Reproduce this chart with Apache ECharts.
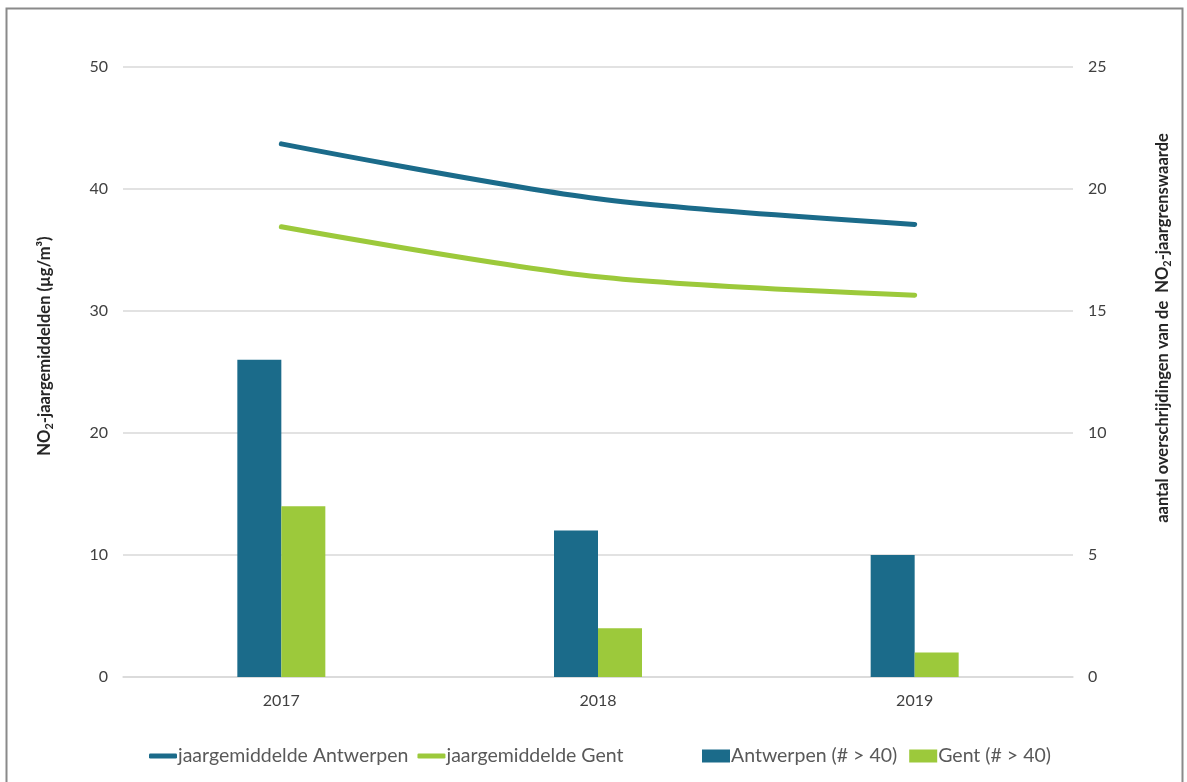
<!DOCTYPE html>
<html>
<head>
<meta charset="utf-8">
<script src="https://cdn.jsdelivr.net/npm/echarts@6/dist/echarts.min.js"></script>
<style>
  html, body { margin: 0; padding: 0; background: #ffffff; }
  #chart { width: 1187px; height: 782px; }
</style>
</head>
<body>
<div id="chart"></div>
<script>
// NO2 annual means (µg/m³) and number of exceedances of the annual limit value
const years = ['2017', '2018', '2019'];
const meanAntwerpen = [43.7, 39.2, 37.1];
const meanGent = [36.9, 32.8, 31.3];
const exceedAntwerpen = [13, 6, 5];
const exceedGent = [7, 2, 1];

const colAntwerpen = '#1b6b8a';
const colGent = '#9cc93b';
const fontFam = 'Lato, "Open Sans", sans-serif';

const chart = echarts.init(document.getElementById('chart'));

chart.setOption({
  backgroundColor: '#ffffff',
  animation: false,
  textStyle: { fontFamily: fontFam },
  grid: { left: 123, right: 114, top: 67, bottom: 105 },
  legend: [
    {
      left: 144, top: 741,
      itemWidth: 28, itemHeight: 5, itemGap: 9,
      icon: 'roundRect',
      data: ['jaargemiddelde Antwerpen', 'jaargemiddelde Gent'],
      textStyle: { fontSize: 19.5, color: '#595959', fontFamily: fontFam, padding: [0, 0, 0, -4] }
    },
    {
      left: 697, top: 741,
      itemWidth: 28, itemHeight: 13, itemGap: 12,
      icon: 'rect',
      data: ['Antwerpen (# > 40)', 'Gent (# > 40)'],
      textStyle: { fontSize: 19.5, color: '#595959', fontFamily: fontFam, padding: [0, 0, 0, -4] }
    }
  ],
  xAxis: {
    type: 'category',
    data: years,
    axisTick: { show: false },
    axisLine: { lineStyle: { color: '#d9d9d9', width: 1.5 } },
    axisLabel: { color: '#404040', fontSize: 16, margin: 16, fontFamily: fontFam }
  },
  yAxis: [
    {
      type: 'value', min: 0, max: 50, interval: 10,
      axisLine: { show: false }, axisTick: { show: false },
      splitLine: { lineStyle: { color: '#d9d9d9', width: 1.5 } },
      axisLabel: { color: '#404040', fontSize: 16, margin: 15, fontFamily: fontFam }
    },
    {
      type: 'value', min: 0, max: 25, interval: 5,
      axisLine: { show: false }, axisTick: { show: false },
      splitLine: { show: false },
      axisLabel: { color: '#404040', fontSize: 16, margin: 15, fontFamily: fontFam }
    }
  ],
  series: [
    {
      name: 'Antwerpen (# > 40)', type: 'bar', yAxisIndex: 1,
      data: exceedAntwerpen, barWidth: 44, barGap: '0%',
      itemStyle: { color: colAntwerpen }
    },
    {
      name: 'Gent (# > 40)', type: 'bar', yAxisIndex: 1,
      data: exceedGent, barWidth: 44, barGap: '0%',
      itemStyle: { color: colGent }
    },
    {
      name: 'jaargemiddelde Antwerpen', type: 'line', yAxisIndex: 0,
      data: meanAntwerpen, smooth: 0.3, symbol: 'none',
      lineStyle: { color: colAntwerpen, width: 5, cap: 'round' },
      itemStyle: { color: colAntwerpen }
    },
    {
      name: 'jaargemiddelde Gent', type: 'line', yAxisIndex: 0,
      data: meanGent, smooth: 0.3, symbol: 'none',
      lineStyle: { color: colGent, width: 5, cap: 'round' },
      itemStyle: { color: colGent }
    }
  ],
  graphic: [
    {
      type: 'rect', silent: true, z: 100,
      shape: { x: 6.5, y: 8.5, width: 1176, height: 790 },
      style: { fill: 'none', stroke: '#8a8a8a', lineWidth: 2 }
    },
    {
      type: 'text', x: 45, y: 346, rotation: Math.PI / 2,
      style: {
        text: '{b|NO}{s|2}{b|-jaargemiddelden (µg/m³)}',
        align: 'center', verticalAlign: 'middle',
        rich: {
          b: { fontSize: 16.5, fontWeight: 'bold', fill: '#262626', fontFamily: fontFam },
          s: { fontSize: 11, fontWeight: 'bold', fill: '#262626', fontFamily: fontFam, padding: [9, 0, 0, 0] }
        }
      }
    },
    {
      type: 'text', x: 1163, y: 328, rotation: Math.PI / 2,
      style: {
        text: '{b|aantal overschrijdingen van de  NO}{s|2}{b|-jaargrenswaarde}',
        align: 'center', verticalAlign: 'middle',
        rich: {
          b: { fontSize: 16.5, fontWeight: 'bold', fill: '#262626', fontFamily: fontFam },
          s: { fontSize: 11, fontWeight: 'bold', fill: '#262626', fontFamily: fontFam, padding: [9, 0, 0, 0] }
        }
      }
    }
  ]
});
</script>
</body>
</html>
